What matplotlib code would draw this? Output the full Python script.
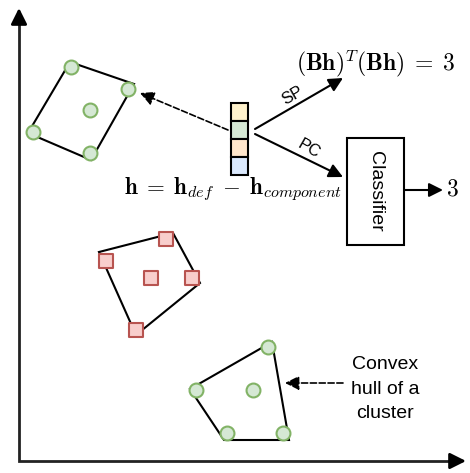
import matplotlib
matplotlib.use('Agg')
import matplotlib.pyplot as plt
from matplotlib.patches import Polygon, Rectangle

plt.rcParams['font.family'] = ['Liberation Sans', 'DejaVu Sans']
plt.rcParams['mathtext.fontset'] = 'cm'

# 簇1（绿色圆点，左上）
c1_pts = [(71, 67), (128, 89), (90, 153), (33, 132), (90, 110)]
c1_hull = [(70, 62), (134, 84), (91, 160), (28, 133)]

# 簇2（红色方块，中间）
c2_pts = [(166, 239), (106, 261), (151, 278), (192, 278), (136, 330)]
c2_hull = [(99, 252), (173, 233), (200, 283), (136, 335)]

# 簇3（绿色圆点，右下）
c3_pts = [(268, 347), (196, 390), (253, 390), (227, 433), (283, 433)]
c3_hull = [(190, 389), (272, 342), (289, 440), (224, 440)]

# 特征向量的四个格子
vec_colors = ['#fff2cc', '#d5e8d4', '#ffe6cc', '#dae8fc']

W, H = 470, 473
fig = plt.figure(figsize=(W / 100, H / 100), dpi=100)
ax = fig.add_axes([0, 0, 1, 1])
ax.set_xlim(0, W)
ax.set_ylim(H, 0)
ax.axis('off')

def arrow(p0, p1, ls='-', lw=1.5, ms=14):
    ax.annotate('', xy=p1, xytext=p0,
                arrowprops=dict(arrowstyle='-|>,head_length=0.6,head_width=0.3',
                                lw=lw, ls=ls, color='black', mutation_scale=ms,
                                shrinkA=0, shrinkB=0))

# 坐标轴
ax.plot([19, 19, 455], [15, 461, 461], color='#222222', lw=2, solid_joinstyle='miter')
arrow((19, 20), (19, 8), lw=2, ms=16)
arrow((450, 461), (466, 461), lw=2, ms=16)

# 凸包
for hull in [c1_hull, c2_hull, c3_hull]:
    ax.add_patch(Polygon(hull, closed=True, fill=False, ec='black', lw=1.5, zorder=2))

for pts in [c1_pts, c3_pts]:
    xs, ys = zip(*pts)
    ax.scatter(xs, ys, s=100, c='#d5e8d4', edgecolors='#82b366', linewidths=1.5, zorder=3)
xs, ys = zip(*c2_pts)
ax.scatter(xs, ys, s=110, marker='s', c='#f8cecc', edgecolors='#b85450', linewidths=1.5, zorder=3)

# 特征向量
for i, col in enumerate(vec_colors):
    ax.add_patch(Rectangle((231, 103 + 18 * i), 17, 18, fc=col, ec='black', lw=1.5, zorder=3))

arrow((228, 130), (140, 93), ls='--', lw=1.2)
arrow((255, 129), (343, 78))
arrow((255, 134), (343, 177))

ax.text(293, 96, 'SP', fontsize=12, rotation=30, ha='center', va='center')
ax.text(309, 149, 'PC', fontsize=12, rotation=-30, ha='center', va='center')

ax.text(376, 64, r'$(\mathbf{Bh})^T(\mathbf{Bh})\;=\;3$', fontsize=17, ha='center', va='center')
ax.text(233, 190, r'$\mathbf{h}\;=\;\mathbf{h}_{def}\;-\;\mathbf{h}_{component}$', fontsize=16.5,
        ha='center', va='center')

# 分类器
ax.add_patch(Rectangle((347, 138), 57, 107, fc='white', ec='black', lw=1.5))
ax.text(376, 191, 'Classifier', fontsize=14, rotation=-90, ha='center', va='center')
arrow((404, 190), (443, 190))
ax.text(452, 189, r'$3$', fontsize=17, ha='center', va='center')

arrow((343, 383), (285, 383), ls='--', lw=1.2)
ax.text(385, 389, 'Convex\nhull of a\ncluster', fontsize=14, ha='center', va='center',
        linespacing=1.6)

plt.savefig('out.png', dpi=100)
